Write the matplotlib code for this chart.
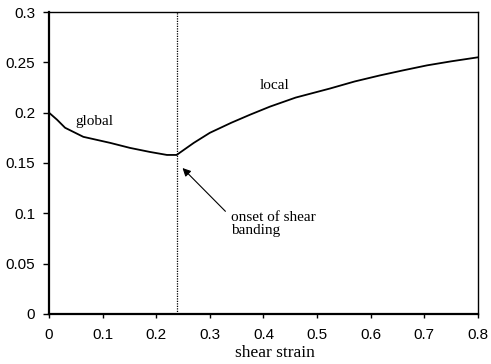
import matplotlib.pyplot as plt

# global branch (before banding) and local branch (after banding)
global_x = [0.0, 0.015, 0.03, 0.064, 0.114, 0.151, 0.188, 0.22, 0.238]
global_y = [0.200, 0.193, 0.185, 0.176, 0.170, 0.165, 0.161, 0.158, 0.158]
local_x = [0.238, 0.27, 0.30, 0.34, 0.375, 0.412, 0.46, 0.524, 0.57, 0.617, 0.66, 0.705, 0.75, 0.80]
local_y = [0.158, 0.170, 0.180, 0.190, 0.198, 0.206, 0.215, 0.224, 0.231, 0.237, 0.242, 0.247, 0.251, 0.255]
onset = 0.238

x_ticks = [0, 0.1, 0.2, 0.3, 0.4, 0.5, 0.6, 0.7, 0.8]
y_ticks = [0, 0.05, 0.1, 0.15, 0.2, 0.25, 0.3]

fig = plt.figure(figsize=(4.91, 3.64), dpi=100)
ax = fig.add_axes([0.0998, 0.1374, 0.8737, 0.8296])

ax.plot(global_x + local_x[1:], global_y + local_y[1:], color="black", lw=1.3)
ax.axvline(onset, color="black", lw=0.9, ls=(0, (1, 1)))

ax.set_xlim(0, 0.8)
ax.set_ylim(0, 0.3)
ax.set_xticks(x_ticks)
ax.set_xticklabels(["0", "0.1", "0.2", "0.3", "0.4", "0.5", "0.6", "0.7", "0.8"],
                   family="Liberation Sans", fontsize=11)
ax.set_yticks(y_ticks)
ax.set_yticklabels(["0", "0.05", "0.1", "0.15", "0.2", "0.25", "0.3"],
                   family="Liberation Sans", fontsize=11)
ax.tick_params(axis="x", direction="out", length=3, width=1, pad=7)
ax.tick_params(axis="y", direction="out", length=4, width=1, pad=6)

for side in ["left", "bottom"]:
    ax.spines[side].set_linewidth(1.6)
for side in ["top", "right"]:
    ax.spines[side].set_linewidth(1.0)

serif = "Liberation Serif"
ax.text(0.084, 0.191, "global", family=serif, fontsize=11, ha="center", va="center")
ax.text(0.42, 0.227, "local", family=serif, fontsize=11, ha="center", va="center")
ax.annotate("", xy=(0.249, 0.145), xytext=(0.329, 0.102),
            arrowprops=dict(arrowstyle="-|>", color="black", lw=0.8,
                            shrinkA=0, shrinkB=0, mutation_scale=12))
ax.text(0.3396, 0.089, "onset of shear\nbanding", family=serif, fontsize=11,
        ha="left", va="center", linespacing=1.0)

ax.set_xlabel("shear strain", family=serif, fontsize=12.5)
ax.xaxis.set_label_coords(0.527, -0.102)

fig.savefig("out.png", dpi=100)
